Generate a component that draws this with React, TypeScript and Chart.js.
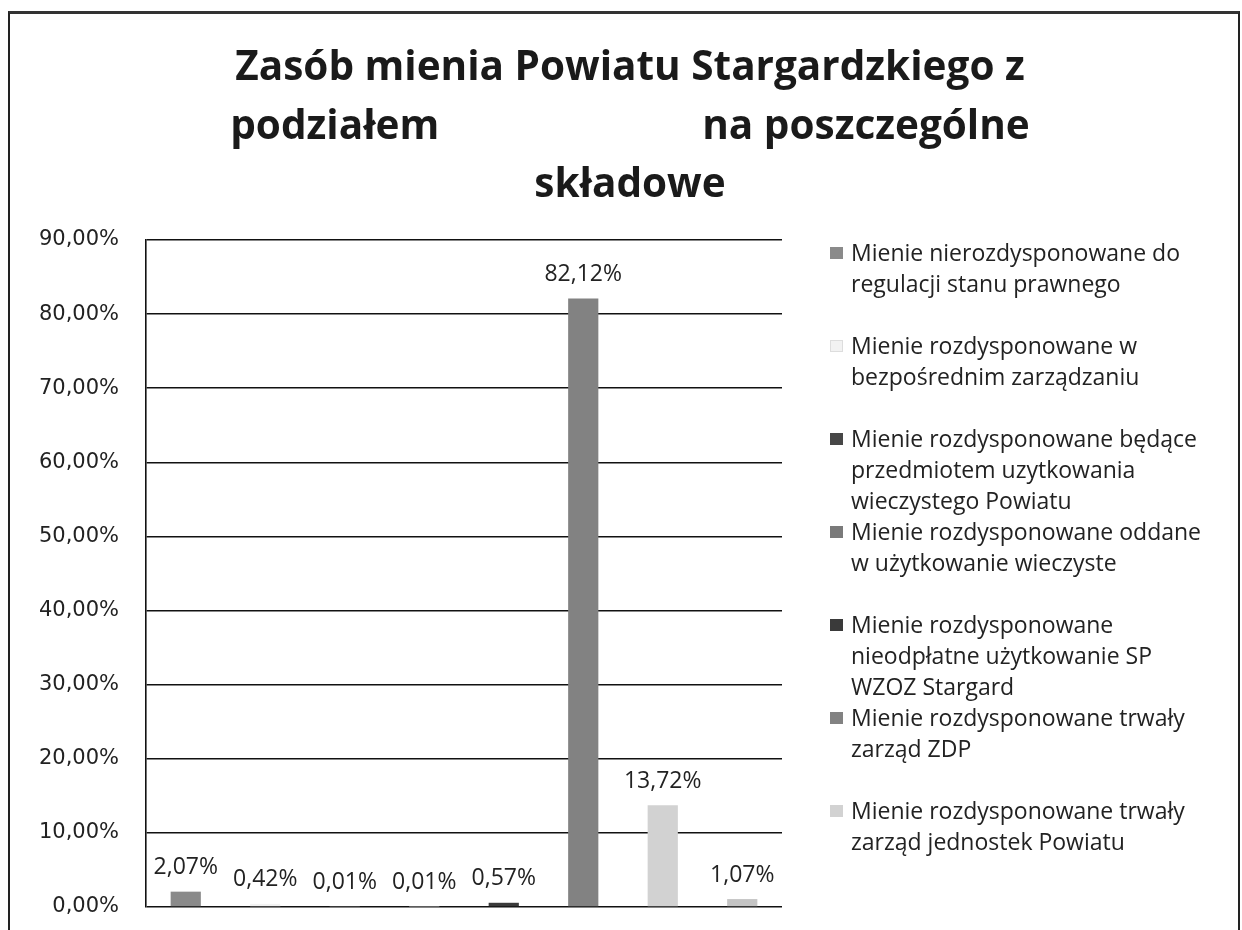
import React, { useEffect, useRef } from "react";
import { Chart, registerables } from "chart.js";

Chart.register(...registerables);

const titleLines = [
  "Zasób mienia Powiatu Stargardzkiego z",
  "podziałem" + " ".repeat(25) + "na poszczególne",
  "składowe",
];

const categories = [""];

const seriesNames = [
  ["Mienie nierozdysponowane do", "regulacji stanu prawnego"],
  ["Mienie rozdysponowane w", "bezpośrednim zarządzaniu"],
  ["Mienie rozdysponowane będące", "przedmiotem uzytkowania", "wieczystego Powiatu"],
  ["Mienie rozdysponowane oddane", "w użytkowanie wieczyste"],
  ["Mienie rozdysponowane", "nieodpłatne użytkowanie SP", "WZOZ Stargard"],
  ["Mienie rozdysponowane trwały", "zarząd ZDP"],
  ["Mienie rozdysponowane trwały", "zarząd jednostek Powiatu"],
  [],
];

const seriesValues = [2.07, 0.42, 0.01, 0.01, 0.57, 82.12, 13.72, 1.07];

const seriesColors = [
  "#8a8a8a",
  "#f2f2f2",
  "#474747",
  "#7a7a7a",
  "#3a3a3a",
  "#828282",
  "#d2d2d2",
  "#c4c4c4",
];

const yMin = 0;
const yMax = 90;
const yStep = 10;

const fmt = (v: number) => v.toFixed(2).replace(".", ",") + "%";

const W = 1242;
const H = 930;

const valueLabelPlugin = {
  id: "valueLabels",
  afterDatasetsDraw(chart: any) {
    const ctx = chart.ctx;
    ctx.save();
    ctx.font = "23px 'Open Sans'";
    ctx.fillStyle = "#222";
    ctx.textAlign = "center";
    ctx.textBaseline = "middle";
    chart.data.datasets.forEach((ds: any, i: number) => {
      const meta = chart.getDatasetMeta(i);
      meta.data.forEach((bar: any, j: number) => {
        const v = ds.data[j];
        ctx.fillText(fmt(v), bar.x, bar.y - 24);
      });
    });
    ctx.restore();
  },
};

export default function App() {
  const ref = useRef<HTMLCanvasElement>(null);

  useEffect(() => {
    if (!ref.current) return;
    const chart = new Chart(ref.current, {
      type: "bar",
      data: {
        labels: categories,
        datasets: seriesValues.map((v, i) => ({
          label: seriesNames[i].join(" "),
          data: [v],
          backgroundColor: seriesColors[i],
          borderWidth: 0,
          categoryPercentage: 1.0,
          barPercentage: 0.38,
        })),
      },
      options: {
        animation: false,
        responsive: false,
        devicePixelRatio: 1,
        layout: { padding: { left: 18, right: 0, top: 0, bottom: 23 } },
        plugins: {
          legend: { display: false },
          tooltip: { enabled: false },
          title: {
            display: true,
            text: titleLines,
            color: "#1a1a1a",
            font: { family: "'Open Sans'", size: 40.5, weight: "bold", lineHeight: "58.5px" },
            padding: { top: 39.5, bottom: 25 },
          },
        },
        scales: {
          x: { display: false },
          y: {
            min: yMin,
            max: yMax,
            position: "left",
            afterFit: (s: any) => {
              s.width = 128;
              s.paddingTop = 0;
              s.paddingBottom = 0;
            },
            ticks: {
              stepSize: yStep,
              padding: 27,
              color: "#222",
              font: { family: "'DejaVu Sans'", size: 21 },
              callback: (v: any) => fmt(Number(v)),
            },
            grid: { color: "#111", lineWidth: 1.6, drawTicks: false },
            border: { display: true, color: "#111", width: 1.6 },
          },
          yR: {
            type: "linear",
            position: "right",
            display: true,
            grid: { display: false },
            border: { display: false },
            ticks: { display: false },
            afterFit: (s: any) => {
              s.width = W - 782;
              s.paddingTop = 0;
              s.paddingBottom = 0;
            },
          },
        },
      },
      plugins: [valueLabelPlugin],
    } as any);
    return () => chart.destroy();
  }, []);

  return (
    <div style={{ position: "absolute", left: 0, top: 0, width: W, height: H, background: "#fff", overflow: "hidden" }}>
      <canvas ref={ref} width={W} height={H} style={{ position: "absolute", left: 0, top: 0 }} />
      <div
        style={{
          position: "absolute",
          left: 8,
          top: 11,
          width: 1228,
          height: 960,
          borderTop: "3px solid #333",
          borderLeft: "2px solid #222",
          borderRight: "2px solid #222",
          pointerEvents: "none",
        }}
      />
      {seriesNames
        .map((lines, i) => ({ lines, i }))
        .filter((e) => e.lines.length > 0)
        .map(({ lines, i }) => (
          <div
            key={i}
            style={{
              position: "absolute",
              left: 830,
              top: 237 + i * 93,
              fontFamily: "'Open Sans'",
              fontSize: 23,
              lineHeight: "31px",
              color: "#222",
            }}
          >
            <span
              style={{
                position: "absolute",
                left: 0,
                top: 10,
                width: 13,
                height: 12,
                background: seriesColors[i],
                border: i === 1 ? "1px solid #ddd" : "none",
                boxSizing: "border-box",
              }}
            />
            <div style={{ marginLeft: 21, whiteSpace: "nowrap" }}>
              {lines.map((l, k) => (
                <div key={k}>{l}</div>
              ))}
            </div>
          </div>
        ))}
    </div>
  );
}
